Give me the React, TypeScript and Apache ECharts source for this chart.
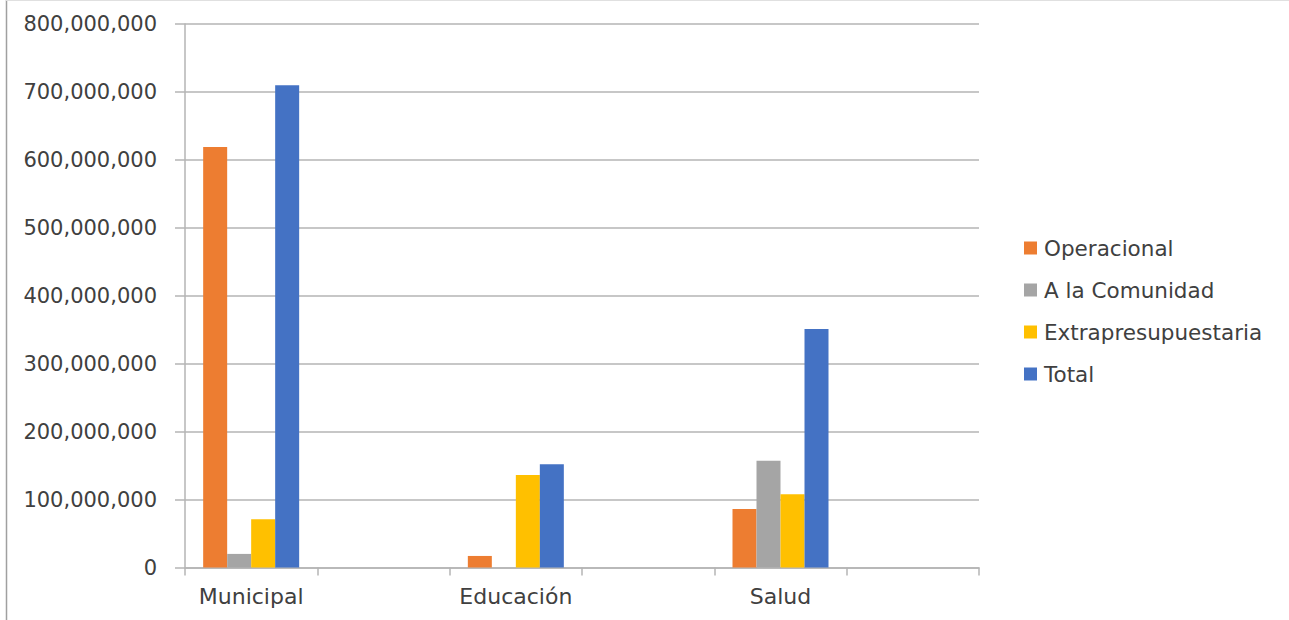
import React, { useEffect, useRef } from "react";
import * as echarts from "echarts";

const categories = ["Municipal", "", "Educación", "", "Salud", ""];
const operacional = [619000000, null, 17000000, null, 86000000, null];
const comunidad = [20000000, null, 0, null, 157000000, null];
const extrapresupuestaria = [71000000, null, 136000000, null, 108000000, null];
const total = [710000000, null, 152000000, null, 351000000, null];
const seriesNames = ["Operacional", "A la Comunidad", "Extrapresupuestaria", "Total"];
const seriesColors = ["#ED7D31", "#A5A5A5", "#FFC000", "#4472C4"];
const yMin = 0;
const yMax = 800000000;
const yInterval = 100000000;

const FONT = "DejaVu Sans";
const TEXT = "#404040";

export default function App() {
  const ref = useRef<HTMLDivElement>(null);
  useEffect(() => {
    if (!ref.current) return;
    const chart = echarts.init(ref.current, undefined, { renderer: "svg" });
    const datasets = [operacional, comunidad, extrapresupuestaria, total];
    chart.setOption({
      animation: false,
      backgroundColor: "#ffffff",
      textStyle: { fontFamily: FONT },
      grid: { left: 185, top: 24, width: 794, height: 543.5, containLabel: false },
      legend: {
        orient: "vertical",
        left: 1019,
        top: 232,
        itemWidth: 13,
        itemHeight: 13,
        itemGap: 20,
        icon: "rect",
        data: seriesNames,
        textStyle: { fontFamily: FONT, fontSize: 21.5, color: TEXT, padding: [0, 0, 0, 2] },
      },
      xAxis: {
        type: "category",
        data: categories,
        boundaryGap: true,
        axisLine: { lineStyle: { color: "#b4b4b4", width: 1.5 } },
        axisTick: { show: true, length: 8, interval: 0, alignWithLabel: false, lineStyle: { color: "#b4b4b4", width: 1.5 } },
        axisLabel: { interval: 0, margin: 18, fontFamily: FONT, fontSize: 22, color: TEXT },
      },
      yAxis: {
        type: "value",
        min: yMin,
        max: yMax,
        interval: yInterval,
        axisLine: { show: true, lineStyle: { color: "#b4b4b4", width: 1.5 } },
        axisTick: { show: true, length: 10, lineStyle: { color: "#b4b4b4", width: 1.5 } },
        splitLine: { show: true, lineStyle: { color: "#b4b4b4", width: 1.5 } },
        axisLabel: {
          margin: 28,
          fontFamily: FONT,
          fontSize: 21,
          color: TEXT,
          formatter: (v: number) => v.toLocaleString("en-US"),
        },
      },
      graphic: [
        { type: "line", shape: { x1: 6.5, y1: 0, x2: 6.5, y2: 620 }, style: { stroke: "#a0a0a0", lineWidth: 1.5 } },
        { type: "line", shape: { x1: 6, y1: 0.5, x2: 1289, y2: 0.5 }, style: { stroke: "#e0e0e0", lineWidth: 1 } },
      ],
      series: seriesNames.map((name, i) => ({
        name,
        type: "bar",
        data: datasets[i],
        barWidth: 24,
        barGap: "0%",
        itemStyle: { color: seriesColors[i] },
      })),
    });
    return () => chart.dispose();
  }, []);
  return (
    <div
      ref={ref}
      style={{ position: "absolute", left: 0, top: 0, width: 1289, height: 620 }}
    />
  );
}
